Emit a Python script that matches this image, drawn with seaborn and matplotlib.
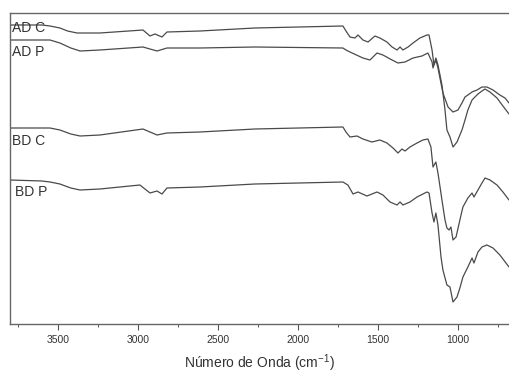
import pandas as pd
import seaborn as sns
import matplotlib.pyplot as plt
from matplotlib.ticker import MultipleLocator

# wavenumbers (cm-1) and offset transmittance (arbitrary units)
ad_c_x = [3800, 3600, 3550, 3488, 3440, 3381, 3238, 2969, 2925, 2894, 2850, 2819, 2613, 2269,
          1719, 1700, 1675, 1644, 1625, 1594, 1562, 1519, 1488, 1444, 1412, 1381, 1362, 1344,
          1312, 1281, 1238, 1194, 1181, 1162, 1150, 1138, 1125, 1094, 1062, 1031, 1000, 975,
          956, 938, 912, 881, 850, 819, 781, 738, 706, 681]
ad_c_y = [299, 299, 298, 296, 293, 291, 291, 294, 288, 290, 287, 292, 293, 296,
          298, 293, 287, 286, 289, 284, 282, 288, 286, 282, 277, 274, 277, 274,
          277, 281, 286, 289, 289, 274, 259, 264, 256, 231, 217, 212, 214, 221,
          227, 229, 232, 234, 237, 237, 234, 229, 226, 221]

ad_p_x = [3800, 3600, 3550, 3488, 3420, 3362, 3238, 2969, 2881, 2819, 2613, 2269, 1719,
          1700, 1675, 1594, 1550, 1506, 1469, 1412, 1375, 1331, 1281, 1225, 1188, 1162,
          1156, 1138, 1125, 1100, 1081, 1069, 1050, 1031, 1006, 975, 956, 938, 912, 900,
          875, 850, 831, 800, 756, 719, 681]
ad_p_y = [284, 284, 284, 281, 276, 273, 274, 277, 273, 276, 276, 277, 276,
          274, 272, 266, 264, 271, 269, 264, 261, 262, 266, 268, 271, 262,
          256, 266, 259, 239, 214, 194, 187, 177, 182, 194, 204, 214, 224, 226,
          230, 233, 235, 232, 226, 218, 210]

bd_c_x = [3800, 3600, 3550, 3488, 3420, 3362, 3238, 2969, 2881, 2819, 2613, 2269, 1719,
          1700, 1675, 1631, 1594, 1538, 1488, 1444, 1406, 1375, 1350, 1331, 1300, 1256,
          1219, 1188, 1169, 1156, 1138, 1125, 1100, 1081, 1069, 1056, 1044, 1031, 1012,
          988, 969, 938, 912, 900, 875, 850, 831, 800, 756, 719, 681]
bd_c_y = [196, 196, 196, 194, 190, 188, 189, 195, 189, 191, 192, 195, 197,
          192, 187, 188, 185, 182, 184, 181, 176, 171, 175, 173, 177, 181,
          184, 185, 177, 157, 162, 151, 124, 104, 96, 94, 97, 84, 87,
          104, 117, 126, 131, 127, 134, 141, 146, 144, 139, 132, 124]

bd_p_x = [3800, 3600, 3550, 3488, 3420, 3362, 3238, 2988, 2925, 2881, 2850, 2819, 2613,
          2269, 1719, 1688, 1656, 1625, 1569, 1506, 1469, 1425, 1381, 1362, 1344, 1300,
          1256, 1194, 1181, 1162, 1150, 1138, 1125, 1106, 1094, 1069, 1050, 1031, 1006,
          988, 969, 938, 912, 900, 875, 850, 819, 781, 738, 681]
bd_p_y = [144, 143, 142, 140, 136, 134, 135, 139, 131, 133, 130, 136, 137,
          140, 142, 139, 130, 132, 128, 132, 129, 122, 119, 122, 119, 122,
          127, 132, 131, 111, 102, 111, 99, 67, 54, 39, 37, 22, 27,
          36, 47, 57, 66, 61, 72, 77, 79, 76, 69, 57]

names = ['AD C', 'AD P', 'BD C', 'BD P']
label_pos = [(3790, 296), (3790, 272), (3785, 183), (3770, 132)]

spectra = pd.concat([
    pd.DataFrame({'wn': ad_c_x, 't': ad_c_y, 'amostra': 'AD C'}),
    pd.DataFrame({'wn': ad_p_x, 't': ad_p_y, 'amostra': 'AD P'}),
    pd.DataFrame({'wn': bd_c_x, 't': bd_c_y, 'amostra': 'BD C'}),
    pd.DataFrame({'wn': bd_p_x, 't': bd_p_y, 'amostra': 'BD P'}),
])

sns.set_style('white')
plt.rcParams['font.family'] = ['Liberation Sans', 'DejaVu Sans']
plt.rcParams['mathtext.fontset'] = 'custom'
plt.rcParams['mathtext.rm'] = 'Liberation Sans'
plt.rcParams['mathtext.it'] = 'Liberation Sans'

fig = plt.figure(figsize=(5.09, 3.73), dpi=100)
ax = fig.add_axes([10 / 509, 49 / 373, 499 / 509, 311 / 373])

sns.lineplot(data=spectra, x='wn', y='t', units='amostra', estimator=None,
             color='#4a4a4a', linewidth=0.9, ax=ax)

for name, (px, py) in zip(names, label_pos):
    ax.text(px, py, name, fontsize=10, color='#333333', va='center', ha='left')

ax.set_xlim(3800, 681)
ax.set_ylim(0, 311)
ax.set_yticks([])
ax.xaxis.set_major_locator(MultipleLocator(500))
ax.xaxis.set_minor_locator(MultipleLocator(250))
ax.tick_params(axis='x', which='major', direction='out', length=4, width=0.8,
               color='#555555', labelsize=7.5, labelcolor='#333333', pad=4, bottom=True)
ax.tick_params(axis='x', which='minor', direction='out', length=2.5, width=0.7,
               color='#555555', bottom=True)
for side in ['left', 'top', 'bottom']:
    ax.spines[side].set_color('#666666')
    ax.spines[side].set_linewidth(1.0)
ax.spines['right'].set_visible(False)
ax.set_xlabel('Número de Onda (cm$^{-1}$)', fontsize=10, color='#333333', labelpad=5)
ax.set_ylabel('')

fig.savefig('out.png', dpi=100)
